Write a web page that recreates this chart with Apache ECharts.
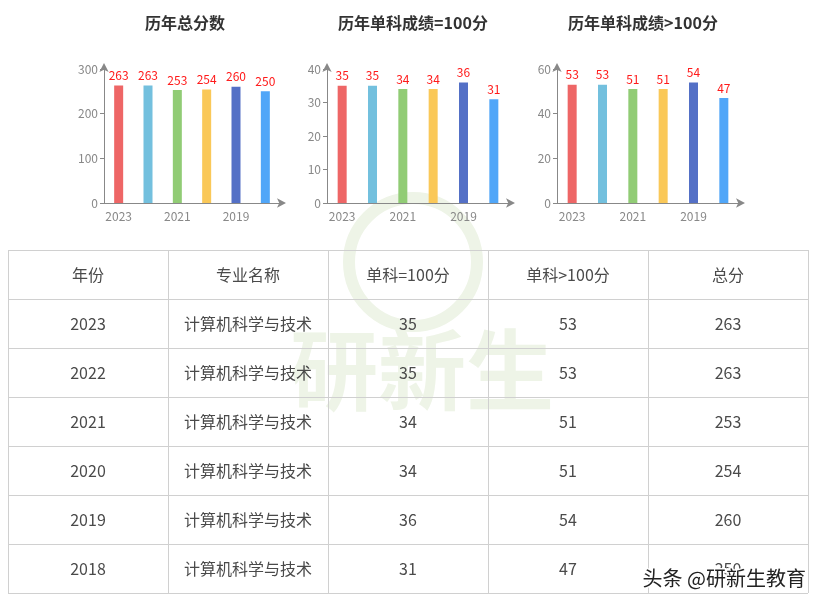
<!DOCTYPE html>
<html>
<head>
<meta charset="utf-8">
<script src="https://cdn.jsdelivr.net/npm/echarts@6/dist/echarts.min.js"></script>
<style>
html,body{margin:0;padding:0;background:#fff;}
#main{width:824px;height:606px;}
</style>
</head>
<body>
<div id="main"></div>
<script>
const years = ['2023', '2022', '2021', '2020', '2019', '2018'];
const totalScores = [263, 263, 253, 254, 260, 250];
const singleEq100 = [35, 35, 34, 34, 36, 31];
const singleGt100 = [53, 53, 51, 51, 54, 47];
const majorName = '计算机科学与技术';
const chartTitles = ['历年总分数', '历年单科成绩=100分', '历年单科成绩>100分'];
const yMax = [300, 40, 60];
const yInterval = [100, 10, 20];
const barColors = ['#ee6666', '#73c0de', '#91cc75', '#fac858', '#5470c6', '#50a6f8'];
const tableHeaders = ['年份', '专业名称', '单科=100分', '单科>100分', '总分'];

const FONT = '"Noto Sans CJK SC", "Microsoft YaHei", sans-serif';
const seriesData = [totalScores, singleEq100, singleGt100];
const grids = [
  { left: 104, top: 69, width: 176, height: 134 },
  { left: 327, top: 69, width: 182, height: 134 },
  { left: 557, top: 69, width: 182, height: 134 }
];
const titleX = [180, 408, 638];

const axisColor = '#888';

const option = {
  animation: false,
  textStyle: { fontFamily: FONT },
  title: chartTitles.map((t, i) => ({
    text: t,
    left: titleX[i],
    top: 10,
    textAlign: 'center',
    textStyle: { fontSize: 16, fontWeight: 'bold', color: '#333', fontFamily: FONT }
  })),
  grid: grids,
  xAxis: grids.map((g, i) => ({
    type: 'category',
    gridIndex: i,
    data: years,
    axisLine: { lineStyle: { color: axisColor }, symbol: ['none', 'arrow'], symbolSize: [7, 9], symbolOffset: [0, 6] },
    axisTick: { alignWithLabel: true, interval: 1, length: 4, lineStyle: { color: axisColor } },
    axisLabel: { interval: 1, color: '#888', fontSize: 12, margin: 7, fontFamily: FONT },
    splitLine: { show: false }
  })),
  yAxis: grids.map((g, i) => ({
    type: 'value',
    gridIndex: i,
    min: 0,
    max: yMax[i],
    interval: yInterval[i],
    axisLine: { show: true, lineStyle: { color: axisColor }, symbol: ['none', 'arrow'], symbolSize: [7, 9], symbolOffset: [0, 6] },
    axisTick: { show: true, length: 4, lineStyle: { color: axisColor } },
    axisLabel: { color: '#888', fontSize: 12, margin: 6, fontFamily: FONT },
    splitLine: { show: false }
  })),
  series: seriesData.map((d, i) => ({
    type: 'bar',
    xAxisIndex: i,
    yAxisIndex: i,
    barWidth: 9,
    data: d.map((v, j) => ({ value: v, itemStyle: { color: barColors[j] } })),
    label: { show: true, position: 'top', color: '#ff1a1a', fontSize: 12, distance: 4, fontFamily: FONT }
  })),
  graphic: []
};

// watermark (behind)
const wmColor = '#eef4e7';
option.graphic.push({
  type: 'circle', z: -10, silent: true,
  shape: { cx: 413, cy: 262, r: 64 },
  style: { fill: 'none', stroke: wmColor, lineWidth: 12 }
});
option.graphic.push({
  type: 'text', z: -10, silent: true,
  style: { x: 422, y: 370, text: '研新生', align: 'center', verticalAlign: 'middle',
    fill: wmColor, font: 'bold 88px ' + FONT }
});

// table
const tLeft = 8, tTop = 250, colW = 160, rowH = 49;
const nRows = years.length + 1, nCols = tableHeaders.length;
const tRight = tLeft + colW * nCols, tBottom = tTop + rowH * nRows;
const lineColor = '#d0d0d0';
for (let r = 0; r <= nRows; r++) {
  const y = tTop + r * rowH + 0.5;
  option.graphic.push({ type: 'line', silent: true, shape: { x1: tLeft, y1: y, x2: tRight, y2: y }, style: { stroke: lineColor, lineWidth: 1 } });
}
for (let c = 0; c <= nCols; c++) {
  const x = tLeft + c * colW + 0.5;
  option.graphic.push({ type: 'line', silent: true, shape: { x1: x, y1: tTop, x2: x, y2: tBottom }, style: { stroke: lineColor, lineWidth: 1 } });
}
const rows = [tableHeaders].concat(years.map((y, i) => [y, majorName, String(singleEq100[i]), String(singleGt100[i]), String(totalScores[i])]));
rows.forEach((row, r) => {
  row.forEach((cell, c) => {
    option.graphic.push({
      type: 'text', silent: true,
      style: {
        x: tLeft + c * colW + colW / 2,
        y: tTop + r * rowH + rowH / 2,
        text: cell, align: 'center', verticalAlign: 'middle',
        fill: '#4a4a4a', font: '16px ' + FONT
      }
    });
  });
});

// bottom-right credit
option.graphic.push({
  type: 'text', silent: true, z: 100,
  style: { x: 806, y: 578, text: '头条 @研新生教育', align: 'right', verticalAlign: 'middle',
    fill: '#222', stroke: '#fff', lineWidth: 3, font: '20px ' + FONT }
});

const chart = echarts.init(document.getElementById('main'), null, { renderer: 'canvas' });
chart.setOption(option);
</script>
</body>
</html>
